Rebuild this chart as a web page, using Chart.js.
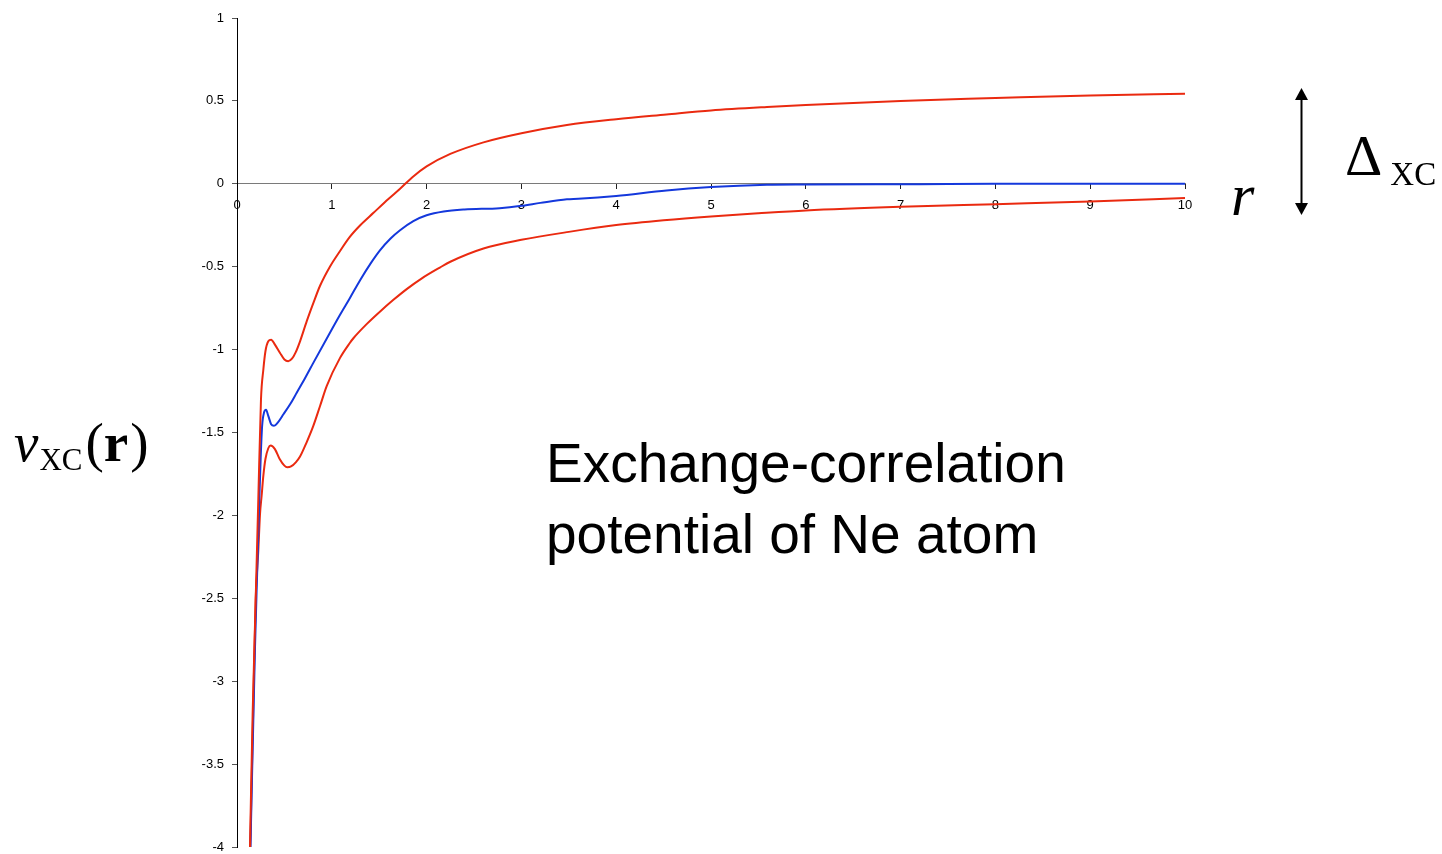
<!DOCTYPE html>
<html>
<head>
<meta charset="utf-8">
<script src="https://cdn.jsdelivr.net/npm/chart.js@4/dist/chart.umd.min.js"></script>
<style>
  html, body { margin: 0; padding: 0; background: #fff; }
  #wrap { position: relative; width: 1442px; height: 854px; overflow: hidden; }
  canvas { position: absolute; left: 0; top: 0; }
  .lbl { position: absolute; white-space: nowrap; color: #000; }
  .serif { font-family: "Liberation Serif", "DejaVu Serif", serif; }
</style>
</head>
<body>
<div id="wrap">
  <canvas id="c" width="1442" height="854"></canvas>
  <div class="lbl" style="left:546px; top:428px; font-family:'Liberation Sans', Arial, sans-serif; font-size:55px; line-height:71px;">Exchange-correlation<br>potential of Ne atom</div>
  <div class="lbl serif" style="left:1231px; top:164px; font-size:60px; line-height:62px; font-style:italic;">r</div>
  <div class="lbl serif" style="left:1345px; top:126px; font-size:58px; line-height:60px;">Δ<span style="font-size:33px; position:relative; top:10px; margin-left:8px;">XC</span></div>
  <div class="lbl serif" style="left:14px; top:415px; font-size:55px; line-height:56px;"><span style="font-style:italic;">v</span><span style="font-size:31px; position:relative; top:9px; margin-left:1px;">XC</span><span style="margin-left:3px;">(</span><span style="font-weight:bold;">r</span><span style="margin-left:2px;">)</span></div>
</div>
<script>
// Upper red curve
const rUpper = [0.137, 0.165, 0.197, 0.225, 0.253, 0.278, 0.30, 0.33, 0.36, 0.40, 0.454, 0.50, 0.54, 0.58, 0.62, 0.665, 0.735, 0.805, 0.876, 0.98, 1.087, 1.19, 1.30, 1.44, 1.60, 1.72, 1.85, 2.0, 2.25, 2.6, 3.0, 3.48, 4.0, 4.53, 5.0, 5.59, 6.0, 7.0, 8.0, 9.0, 10.0];
const vUpper = [-4.0, -3.2, -2.51, -1.9, -1.30, -1.12, -1.01, -0.95, -0.94, -0.97, -1.02, -1.06, -1.07, -1.055, -1.015, -0.95, -0.83, -0.72, -0.615, -0.50, -0.405, -0.32, -0.25, -0.175, -0.09, -0.03, 0.04, 0.105, 0.18, 0.25, 0.305, 0.355, 0.39, 0.418, 0.442, 0.463, 0.475, 0.50, 0.517, 0.533, 0.543];

// Blue curve
const rMid = [0.142, 0.19, 0.215, 0.235, 0.25, 0.265, 0.285, 0.306, 0.33, 0.36, 0.39, 0.43, 0.49, 0.56, 0.63, 0.72, 0.805, 0.95, 1.087, 1.19, 1.30, 1.41, 1.51, 1.62, 1.72, 1.86, 2.0, 2.18, 2.4, 2.77, 3.0, 3.2, 3.48, 3.6, 4.0, 4.53, 5.0, 5.59, 6.0, 7.2, 8.0, 10.0];
const vMid = [-4.0, -2.79, -2.3, -1.91, -1.65, -1.46, -1.38, -1.363, -1.40, -1.45, -1.46, -1.44, -1.39, -1.33, -1.26, -1.17, -1.08, -0.93, -0.79, -0.69, -0.58, -0.48, -0.40, -0.33, -0.28, -0.225, -0.19, -0.167, -0.155, -0.147, -0.133, -0.115, -0.093, -0.09, -0.073, -0.040, -0.020, -0.006, -0.004, -0.002, 0.0, 0.0];

// Lower red curve
const rLower = [0.14, 0.17, 0.197, 0.225, 0.243, 0.26, 0.278, 0.30, 0.33, 0.355, 0.40, 0.45, 0.50, 0.53, 0.57, 0.62, 0.665, 0.73, 0.805, 0.876, 0.946, 1.087, 1.19, 1.23, 1.37, 1.51, 1.65, 1.79, 1.95, 2.14, 2.25, 2.6, 3.0, 3.5, 4.0, 4.5, 5.0, 5.5, 6.0, 7.0, 8.0, 9.0, 10.0];
const vLower = [-4.0, -3.2, -2.51, -2.21, -1.99, -1.88, -1.76, -1.66, -1.595, -1.578, -1.60, -1.66, -1.70, -1.71, -1.705, -1.68, -1.645, -1.565, -1.46, -1.34, -1.22, -1.05, -0.96, -0.93, -0.845, -0.77, -0.70, -0.635, -0.57, -0.505, -0.47, -0.39, -0.338, -0.29, -0.249, -0.22, -0.197, -0.178, -0.161, -0.139, -0.123, -0.107, -0.086];

const xTicks = [0, 1, 2, 3, 4, 5, 6, 7, 8, 9, 10];
const yTicks = [1, 0.5, 0, -0.5, -1, -1.5, -2, -2.5, -3, -3.5, -4];

const RED = '#ea2a10';
const BLUE = '#1438dc';

function pts(xs, ys) { return xs.map((x, i) => ({ x: x, y: ys[i] })); }
function fmt(v) { return String(Number(Number(v).toFixed(2))); }

const arrowPlugin = {
  id: 'deltaArrow',
  afterDraw(chart) {
    const ctx = chart.ctx;
    const x = 1301.5, top = 88, bot = 215, hh = 12, hw = 6.5;
    ctx.save();
    ctx.strokeStyle = '#000';
    ctx.fillStyle = '#000';
    ctx.lineWidth = 2;
    ctx.beginPath();
    ctx.moveTo(x, top + hh - 1);
    ctx.lineTo(x, bot - hh + 1);
    ctx.stroke();
    ctx.beginPath();
    ctx.moveTo(x, top); ctx.lineTo(x - hw, top + hh); ctx.lineTo(x + hw, top + hh); ctx.closePath(); ctx.fill();
    ctx.beginPath();
    ctx.moveTo(x, bot); ctx.lineTo(x - hw, bot - hh); ctx.lineTo(x + hw, bot - hh); ctx.closePath(); ctx.fill();
    ctx.restore();
  }
};

const tickFont = { family: "'Liberation Sans', Arial, sans-serif", size: 13 };

new Chart(document.getElementById('c'), {
  type: 'line',
  data: {
    datasets: [
      { data: pts(rUpper, vUpper), borderColor: RED, borderWidth: 2, pointRadius: 0, cubicInterpolationMode: 'monotone', fill: false },
      { data: pts(rMid, vMid), borderColor: BLUE, borderWidth: 2, pointRadius: 0, cubicInterpolationMode: 'monotone', fill: false },
      { data: pts(rLower, vLower), borderColor: RED, borderWidth: 2, pointRadius: 0, cubicInterpolationMode: 'monotone', fill: false }
    ]
  },
  options: {
    responsive: false,
    animation: false,
    events: [],
    layout: { padding: { left: 0, top: 18, right: 257, bottom: 7 } },
    plugins: { legend: { display: false }, tooltip: { enabled: false } },
    scales: {
      x: {
        type: 'linear', min: 0, max: 10,
        position: { y: 0 },
        afterBuildTicks: s => { s.ticks = xTicks.map(v => ({ value: v })); },
        afterFit: s => { s.height = 0; s.paddingLeft = 0; s.paddingRight = 0; s.paddingTop = 0; s.paddingBottom = 0; },
        ticks: { font: tickFont, color: '#000', padding: 9, maxRotation: 0, autoSkip: false, callback: v => fmt(v) },
        grid: { drawOnChartArea: false, drawTicks: true, tickLength: 5, tickColor: '#222' },
        border: { color: '#7a7a7a', width: 1 }
      },
      y: {
        type: 'linear', min: -4, max: 1,
        afterBuildTicks: s => { s.ticks = yTicks.map(v => ({ value: v })); },
        afterFit: s => { s.width = 237; s.paddingTop = 0; s.paddingBottom = 0; s.paddingLeft = 0; s.paddingRight = 0; },
        ticks: { font: tickFont, color: '#000', padding: 8, autoSkip: false, callback: v => fmt(v) },
        grid: { drawOnChartArea: false, drawTicks: true, tickLength: 5, tickColor: '#555' },
        border: { color: '#000', width: 1 }
      }
    }
  },
  plugins: [arrowPlugin]
});
</script>
</body>
</html>
